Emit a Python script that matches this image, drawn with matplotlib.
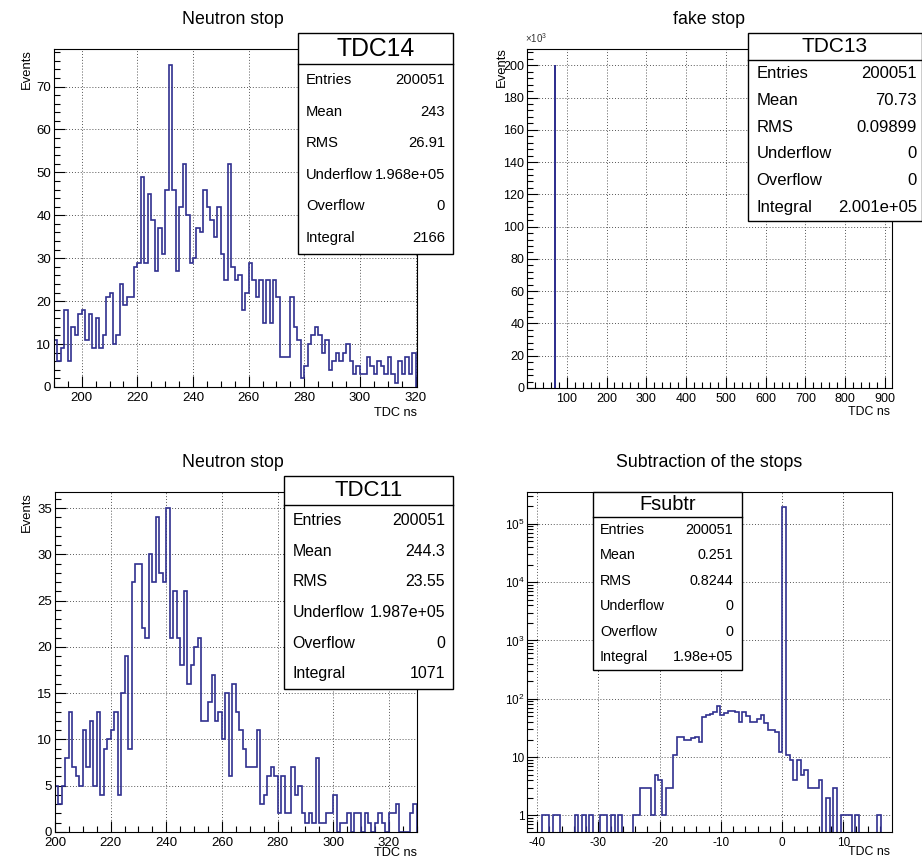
import numpy as np
import matplotlib
matplotlib.use('Agg')
import matplotlib.pyplot as plt
from matplotlib.patches import Rectangle
from matplotlib.lines import Line2D
from matplotlib.ticker import MultipleLocator, FixedLocator, FuncFormatter, LogLocator, NullFormatter

plt.rcParams['font.family'] = ['Liberation Sans', 'DejaVu Sans']
plt.rcParams['mathtext.fontset'] = 'custom'
plt.rcParams['mathtext.rm'] = 'Liberation Sans'
plt.rcParams['mathtext.it'] = 'Liberation Sans:italic'
plt.rcParams['axes.unicode_minus'] = False

W, H = 922, 867
LINE = '#30308f'

# TDC14, neutron stop: 1.25 ns bins starting at 190 ns
tdc14_start = 190.0
tdc14_width = 1.25
tdc14_counts = [11, 6, 9, 18, 6, 14, 12, 17,
                18, 11, 17, 9, 16, 9, 12, 21, 22, 10, 12, 24, 19, 21, 21, 28,
                29, 49, 29, 45, 39, 27, 37, 31, 46, 75, 46, 27, 42, 52, 40, 29,
                30, 37, 36, 46, 42, 39, 35, 42, 31, 25, 52,
                28, 25, 26, 18, 22, 29, 25, 21, 25, 15, 25, 15, 25, 21, 7, 7, 7, 21, 14, 11, 2,
                5, 10, 12, 14, 12, 8, 11, 4, 6, 8, 6, 8, 10, 6, 3, 5, 3, 3, 7, 5,
                3, 6, 5, 3, 7, 3, 1, 6, 3, 7, 3, 8]
tdc14_stats = ['200051', '243', '26.91', '1.968e+05', '0', '2166']

# TDC13, fake stop: everything sits in one bin near 70.7 ns
tdc13_edges = [70.1, 71.35]
tdc13_counts = [200051]
tdc13_xmax = 917
tdc13_stats = ['200051', '70.73', '0.09899', '0', '0', '2.001e+05']

# TDC11, neutron stop: 1.25 ns bins starting at 200 ns
tdc11_start = 200.0
tdc11_width = 1.25
tdc11_counts = [5, 3, 5, 8, 13, 7, 6, 5, 11, 7,
                12, 5, 13, 4, 9, 10, 11, 13, 4, 15,
                19, 9, 27, 29, 29, 22, 21, 30, 27, 34,
                28, 27, 35, 21, 26, 21, 18, 26, 16, 18,
                20, 21, 12, 12, 14, 17, 12, 13, 10, 15,
                6, 16, 13, 11, 9, 7, 7, 7, 11, 3,
                4, 6, 7, 6, 2, 6, 2, 2, 7, 4,
                5, 2, 1, 2, 1, 8, 1, 1, 2, 2,
                4, 0, 1, 1, 2, 0, 2, 2, 0, 2,
                1, 0, 1, 2, 1, 0, 2, 2, 3, 0,
                0, 0, 2, 3]
tdc11_stats = ['200051', '244.3', '23.55', '1.987e+05', '0', '1071']

# Fsubtr, difference of the stops: 100 bins
fsubtr_lo, fsubtr_hi = -41.6, 17.9
fsubtr_counts = [0, 0, 0, 0,
                 1, 1, 0, 1, 1,
                 0, 0, 0, 0,
                 1, 0, 1, 0, 1, 0, 0,
                 1, 1, 0, 1, 0, 1,
                 0, 0, 0,
                 1, 1,
                 3, 3, 3, 1, 5, 4, 1, 3, 3, 11,
                 22, 22, 20, 20, 21, 22, 18, 49,
                 52, 55, 60, 75,
                 52, 57, 62, 62, 60, 40, 60, 50, 40, 40, 45, 52, 38, 29, 29, 27, 12,
                 196700,
                 11, 9, 4, 9, 5, 6, 3, 3, 3, 4, 0, 2, 0, 3, 0,
                 1, 1, 1, 0, 1, 0, 0, 0, 0, 0, 1, 0, 0, 0]
fsubtr_stats = ['200051', '0.251', '0.8244', '0', '0', '1.98e+05']

stat_labels = ['Entries', 'Mean', 'RMS', 'Underflow', 'Overflow', 'Integral']


def px_rect(x0, y0, x1, y1):
    return [x0 / W, 1 - y1 / H, (x1 - x0) / W, (y1 - y0) / H]


def style_axes(ax, labelsize):
    ax.set_axisbelow(True)
    ax.grid(True, which='major', linestyle=(0, (1, 2)), color='#555555', lw=0.7)
    ax.tick_params(which='both', direction='in', top=False, right=False,
                   labelsize=labelsize, width=0.8)
    ax.tick_params(which='major', length=8)
    ax.tick_params(which='minor', length=4)
    ax.tick_params(axis='x', pad=3.5)
    ax.tick_params(axis='y', pad=2)
    for sp in ax.spines.values():
        sp.set_linewidth(0.8)


def stats_box(x0, y0, x1, y1, y_head, name, values, head_size, row_size, pad_l, pad_r):
    fig.add_artist(Rectangle((x0 / W, 1 - y1 / H), (x1 - x0) / W, (y1 - y0) / H,
                             transform=fig.transFigure, facecolor='white',
                             edgecolor='black', lw=1.0, zorder=10))
    fig.add_artist(Line2D([x0 / W, x1 / W], [1 - y_head / H] * 2,
                          transform=fig.transFigure, color='black', lw=1.0, zorder=11))
    fig.text((x0 + x1) / 2 / W, 1 - (y0 + y_head) / 2 / H, name,
             ha='center', va='center', fontsize=head_size, zorder=12)
    step = (y1 - y_head) / len(stat_labels)
    for i, (lab, val) in enumerate(zip(stat_labels, values)):
        yc = 1 - (y_head + step * (i + 0.5)) / H
        fig.text((x0 + pad_l) / W, yc, lab, ha='left', va='center', fontsize=row_size, zorder=12)
        fig.text((x1 - pad_r) / W, yc, val, ha='right', va='center', fontsize=row_size, zorder=12)


def px_text(x, y, s, **kw):
    fig.text(x / W, 1 - y / H, s, **kw)


fig = plt.figure(figsize=(W / 100, H / 100), dpi=100)
fig.patch.set_facecolor('white')

# top left: TDC14
ax = fig.add_axes(px_rect(53.9, 49, 416.7, 387))
edges = tdc14_start + tdc14_width * np.arange(len(tdc14_counts) + 1)
ax.stairs(tdc14_counts, edges, color=LINE, lw=1.2)
ax.set_xlim(190, 320.4)
ax.set_ylim(0, 1.05 * max(tdc14_counts))
ax.xaxis.set_major_locator(MultipleLocator(20))
ax.xaxis.set_minor_locator(MultipleLocator(5))
ax.yaxis.set_major_locator(MultipleLocator(10))
ax.yaxis.set_minor_locator(MultipleLocator(2))
style_axes(ax, 9.5)
px_text(232.5, 20, 'Neutron stop', ha='center', va='center', fontsize=12.8)
px_text(26.7, 49, 'Events', rotation=90, ha='center', va='top', fontsize=9.4)
px_text(416.7, 412.7, 'TDC ns', ha='right', va='center', fontsize=9.2)
stats_box(298, 33, 453, 254, 64, 'TDC14', tdc14_stats, 17.8, 10.6, 8, 8)

# top right: TDC13
ax = fig.add_axes(px_rect(527, 49, 891.7, 388))
ax.stairs(tdc13_counts, tdc13_edges, color=LINE, lw=1.2)
ax.set_xlim(0, tdc13_xmax)
ax.set_ylim(0, 1.05 * max(tdc13_counts))
ax.xaxis.set_major_locator(FixedLocator(np.arange(100, 901, 100)))
ax.xaxis.set_minor_locator(MultipleLocator(20))
ax.yaxis.set_major_locator(MultipleLocator(20000))
ax.yaxis.set_minor_locator(MultipleLocator(4000))
ax.yaxis.set_major_formatter(FuncFormatter(lambda v, p: '%d' % round(v / 1000)))
style_axes(ax, 9)
ax.text(-0.005, 1.012, '×10$^{3}$', transform=ax.transAxes, ha='left', va='bottom',
        fontsize=7, color='#333333')
px_text(708.7, 20, 'fake stop', ha='center', va='center', fontsize=12.8)
px_text(501.7, 47, 'Events', rotation=90, ha='center', va='top', fontsize=9.4)
px_text(890, 412.3, 'TDC ns', ha='right', va='center', fontsize=8.9)
stats_box(748, 33, 921.5, 221, 60, 'TDC13', tdc13_stats, 15, 12, 8.7, 4.5)

# bottom left: TDC11
ax = fig.add_axes(px_rect(55, 492, 416.7, 832))
edges = tdc11_start + tdc11_width * np.arange(len(tdc11_counts) + 1)
ax.stairs(tdc11_counts, edges, color=LINE, lw=1.2)
ax.set_xlim(200, 330)
ax.set_ylim(0, 1.05 * max(tdc11_counts))
ax.xaxis.set_major_locator(MultipleLocator(20))
ax.xaxis.set_minor_locator(MultipleLocator(5))
ax.yaxis.set_major_locator(MultipleLocator(5))
ax.yaxis.set_minor_locator(MultipleLocator(1))
style_axes(ax, 9.5)
px_text(232.5, 462.3, 'Neutron stop', ha='center', va='center', fontsize=12.8)
px_text(26.7, 492, 'Events', rotation=90, ha='center', va='top', fontsize=9.4)
px_text(416.7, 853.3, 'TDC ns', ha='right', va='center', fontsize=9.2)
stats_box(284, 476, 453, 689, 505, 'TDC11', tdc11_stats, 15.9, 11.4, 8.3, 8)

# bottom right: Fsubtr on a log scale
ax = fig.add_axes(px_rect(527.3, 492, 891.7, 832))
counts = np.asarray(fsubtr_counts, dtype=float)
edges = np.linspace(fsubtr_lo, fsubtr_hi, len(counts) + 1)
ax.stairs(np.where(counts > 0, counts, 1e-3), edges, baseline=1e-3, color=LINE, lw=1.2)
ax.set_yscale('log')
ax.set_xlim(fsubtr_lo, fsubtr_hi)
ax.set_ylim(0.52, 3.5e5)
ax.xaxis.set_major_locator(MultipleLocator(10))
ax.xaxis.set_minor_locator(MultipleLocator(2))
ax.yaxis.set_major_locator(LogLocator(base=10, numticks=10))
ax.yaxis.set_minor_locator(LogLocator(base=10, subs=np.arange(2, 10), numticks=20))
ax.yaxis.set_minor_formatter(NullFormatter())


def log_label(v, pos):
    n = int(round(np.log10(v)))
    if n == 0:
        return '1'
    if n == 1:
        return '10'
    return '10$^{%d}$' % n


ax.yaxis.set_major_formatter(FuncFormatter(log_label))
style_axes(ax, 8.5)
px_text(708.8, 462.3, 'Subtraction of the stops', ha='center', va='center', fontsize=12.8)
px_text(890, 851.7, 'TDC ns', ha='right', va='center', fontsize=8.9)
stats_box(593.3, 492.3, 741.7, 670, 517.3, 'Fsubtr', fsubtr_stats, 14.4, 10.4, 6.7, 8.4)

fig.savefig('out.png', dpi=100)
